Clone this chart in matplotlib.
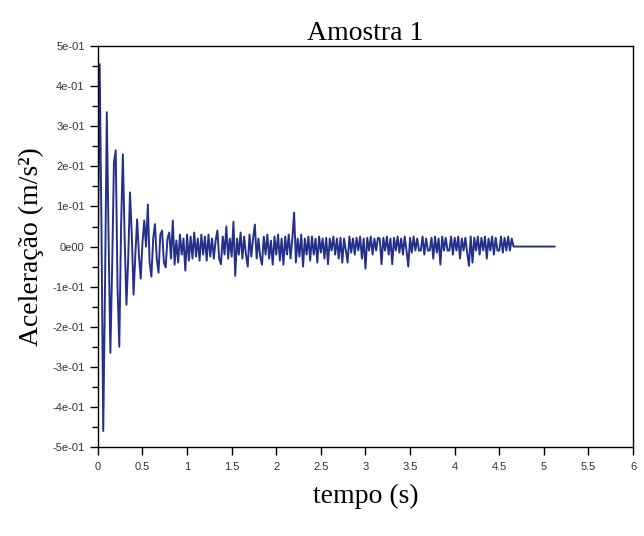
import numpy as np
import matplotlib
matplotlib.use("Agg")
import matplotlib.pyplot as plt
from matplotlib.ticker import MultipleLocator

# amostragem do sinal (s)
dt = 0.02

# aceleração, 0.00 s a 0.98 s
acel_inicio = [
    0.0, 0.455, 0.05, -0.46, -0.10, 0.335, 0.02, -0.265, -0.05, 0.21,
    0.24, -0.10, -0.25, 0.05, 0.23, 0.02, -0.145, -0.03, 0.135, 0.03,
    -0.12, -0.02, 0.068, -0.02, -0.08, 0.01, 0.065, 0.0, 0.105, -0.04,
    -0.075, 0.02, 0.056, -0.03, -0.065, 0.03, 0.04, -0.04, -0.052, 0.02,
    0.035, -0.03, 0.065, -0.045, 0.015, -0.04, 0.03, -0.02, 0.02, -0.06,
]
# 1.00 s a 4.64 s
acel_ruido = [
    0.03, -0.035, 0.025, -0.03, 0.035, -0.025, 0.02, -0.035, 0.03, -0.02,
    0.025, -0.035, 0.03, -0.025, 0.02, -0.03, 0.015, 0.04, -0.03, -0.044,
    0.025, -0.02, 0.05, -0.03, 0.02, -0.025, 0.062, -0.073, 0.02, -0.02,
    0.035, -0.03, 0.025, -0.02, -0.05, 0.03, -0.025, 0.02, 0.055, -0.03,
    0.02, -0.025, -0.045, 0.025, -0.02, 0.03, -0.03, 0.015, -0.045, 0.025,
    -0.02, 0.03, -0.035, 0.02, -0.045, 0.025, -0.02, 0.03, -0.03, 0.02,
    0.085, -0.04, 0.02, -0.025, 0.03, -0.05, 0.02, -0.02, 0.025, -0.035,
    0.025, -0.02, 0.02, -0.04, 0.025, -0.015, 0.02, -0.03, 0.022, -0.044,
    0.02, -0.01, 0.025, -0.02, 0.02, -0.03, 0.022, -0.04, 0.02, -0.01,
    -0.04, 0.025, -0.015, 0.02, -0.02, 0.022, -0.01, 0.025, -0.03, 0.02,
    -0.055, 0.022, -0.01, 0.025, -0.02, 0.02, -0.01, 0.022, 0.02, -0.044,
    0.022, -0.01, 0.025, -0.02, 0.02, -0.044, 0.022, -0.01, 0.025, -0.015,
    0.02, -0.02, 0.025, -0.01, -0.05, 0.022, -0.015, 0.025, -0.01, 0.02,
    -0.01, -0.01, 0.025, -0.02, 0.02, -0.01, -0.01, 0.022, -0.03, 0.025,
    -0.015, 0.02, -0.045, 0.025, -0.01, 0.022, -0.01, -0.01, 0.025, -0.02,
    0.022, -0.01, 0.025, -0.03, 0.02, -0.01, 0.022, -0.015, -0.048, 0.025,
    -0.04, 0.022, -0.01, 0.025, -0.02, 0.022, -0.01, 0.025, -0.03, 0.02,
    -0.01, 0.025, -0.02, 0.022, -0.01, -0.01, 0.025, -0.015, 0.022, -0.01,
    0.025, -0.01, 0.02,
]
# trecho final constante
tempo_fim = [4.66, 5.12]
acel_fim = [0.0, 0.0]

y_ticks = [-0.5, -0.4, -0.3, -0.2, -0.1, 0.0, 0.1, 0.2, 0.3, 0.4, 0.5]
y_labels = ["-5e-01", "-4e-01", "-3e-01", "-2e-01", "-1e-01", "0e00",
            "1e-01", "2e-01", "3e-01", "4e-01", "5e-01"]
x_ticks = [0, 0.5, 1, 1.5, 2, 2.5, 3, 3.5, 4, 4.5, 5, 5.5, 6]
x_labels = ["0", "0.5", "1", "1.5", "2", "2.5", "3", "3.5", "4", "4.5", "5", "5.5", "6"]

# %%
acel = np.array(acel_inicio + acel_ruido)
tempo = np.arange(len(acel)) * dt
tempo = np.concatenate([tempo, tempo_fim])
acel = np.concatenate([acel, acel_fim])

fig = plt.figure(figsize=(6.44, 5.36), dpi=100)
ax = fig.add_axes([0.152, 0.166, 0.831, 0.748])
ax.plot(tempo, acel, color="#24308a", linewidth=1.4)

ax.set_xlim(0, 6)
ax.set_ylim(-0.5, 0.5)
ax.set_xticks(x_ticks)
ax.set_xticklabels(x_labels, fontfamily="Liberation Sans", fontsize=8, color="#333333")
ax.set_yticks(y_ticks)
ax.set_yticklabels(y_labels, fontfamily="Liberation Sans", fontsize=8, color="#333333")
ax.yaxis.set_minor_locator(MultipleLocator(0.05))
ax.tick_params(which="major", length=6, width=1, direction="out")
ax.tick_params(which="minor", length=4, width=1, direction="out")
ax.tick_params(axis="x", pad=5)
for s in ax.spines.values():
    s.set_linewidth(1)

ax.set_title("Amostra 1", fontfamily="Liberation Serif", fontsize=20, pad=4)
ax.set_xlabel("tempo (s)", fontfamily="Liberation Serif", fontsize=20, labelpad=8)
ax.set_ylabel("Aceleração (m/s²)", fontfamily="Liberation Serif", fontsize=20, labelpad=6)

fig.savefig("out.png", dpi=100)
